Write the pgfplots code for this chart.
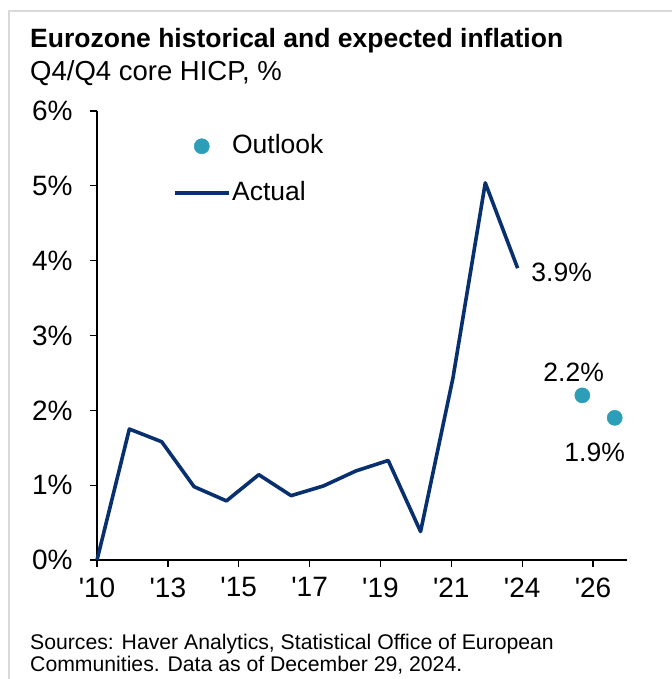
\documentclass[border=0pt]{standalone}
\usepackage{pgfplots}
\pgfplotsset{compat=1.18}
\usepackage{fontspec}
\setmainfont{Liberation Sans}
\definecolor{navy}{RGB}{8,48,110}
\definecolor{tealdot}{RGB}{44,158,184}
\definecolor{framegray}{RGB}{217,217,217}
\newcommand{\fs}[1]{\fontsize{#1bp}{#1bp}\selectfont}
\begin{document}
\begin{tikzpicture}
\useasboundingbox (0bp,0bp) rectangle (672bp,-679bp);
\fill[white] (0bp,0bp) rectangle (672bp,-679bp);
\draw[framegray, line width=2bp] (9bp,-679bp) -- (9bp,-11bp) -- (672bp,-11bp);
\node[anchor=base west, inner sep=0pt, font=\fs{26.5}\bfseries] at (30bp,-47bp) {Eurozone historical and expected inflation};
\node[anchor=base west, inner sep=0pt, font=\fs{27.5}] at (30bp,-80bp) {Q4/Q4 core HICP, \%};
\node[anchor=base west, inner sep=0pt, font=\fs{21.2}] at (30bp,-649bp) {Sources: Haver Analytics, Statistical Office of European};
\node[anchor=base west, inner sep=0pt, font=\fs{21.2}] at (30bp,-671bp) {Communities. Data as of December 29, 2024.};
\begin{axis}[
  at={(97bp,-560bp)}, anchor=south west,
  scale only axis, width=530bp, height=449bp,
  xmin=0, xmax=16.38, ymin=0, ymax=6,
  axis x line*=bottom, axis y line*=left,
  axis line style={-, line width=1.3bp, black},
  tick style={line width=1.3bp, black},
  tick align=outside, major tick length=7bp,
  xtick={0,2.19,4.38,6.57,8.76,10.95,13.14,15.33},
  xticklabels={\textquotesingle10,\textquotesingle13,\textquotesingle15,\textquotesingle17,\textquotesingle19,\textquotesingle21,\textquotesingle24,\textquotesingle26},
  ytick={0,1,2,3,4,5,6},
  yticklabel={\pgfmathprintnumber{\tick}\%},
  /pgf/number format/assume math mode=true,
  ticklabel style={font=\fs{28}},
  yticklabel style={anchor=east, xshift=-14bp},
  xticklabel style={anchor=north, yshift=-7bp},
  clip=false,
  reverse legend,
  legend style={draw=none, fill=none, at={(0.143,0.952)}, anchor=north west,
    font=\fs{26.5}, row sep=20bp, inner sep=0pt,
    nodes={inner sep=1.5bp, text height=19bp, text depth=5bp}},
  legend cell align=left,
]
\addplot[navy, line width=3.6bp, line join=round,
  legend image code/.code={\draw[navy, line width=3.6bp] (0bp,0bp) -- (54bp,0bp);}]
  coordinates {(0,0) (1,1.75) (2,1.58) (3,0.98) (4,0.79) (5,1.14) (6,0.86) (7,0.99) (8,1.19) (9,1.33) (10,0.38) (11,2.43) (12,5.04) (13,3.9)};
\addlegendentry{Actual}
\addplot[only marks, mark=*, mark size=7.6bp, mark options={tealdot, draw=tealdot, fill=tealdot},
  legend image code/.code={\fill[tealdot] (27bp,0bp) circle (7.6bp);}]
  coordinates {(15,2.2) (16,1.9)};
\addlegendentry{Outlook}
\node[anchor=west, inner sep=0pt, font=\fs{26.5}] at (axis cs:13.42,3.84) {3.9\%};
\node[inner sep=0pt, font=\fs{26.5}] at (axis cs:14.73,2.51) {2.2\%};
\node[inner sep=0pt, font=\fs{26.5}] at (axis cs:15.38,1.44) {1.9\%};
\end{axis}
\end{tikzpicture}
\end{document}
